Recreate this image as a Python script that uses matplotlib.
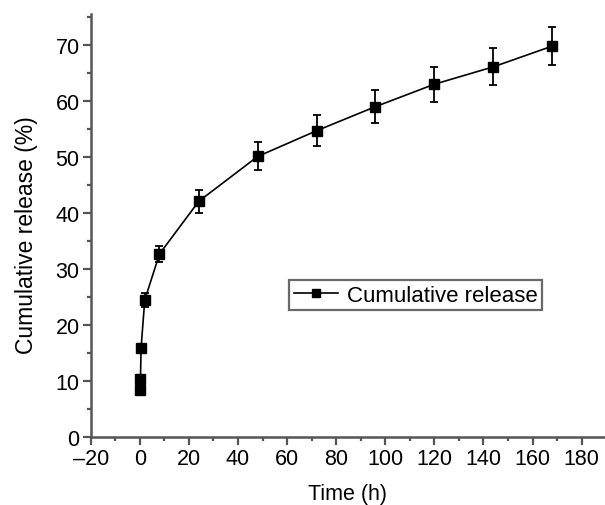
import matplotlib
matplotlib.use("Agg")
import matplotlib.pyplot as plt
from matplotlib.ticker import MultipleLocator

plt.rcParams['font.family'] = ['Liberation Sans', 'DejaVu Sans']

time_h = [0, 0.25, 0.5, 2, 8, 24, 48, 72, 96, 120, 144, 168]
release = [8.4, 10.3, 15.9, 24.5, 32.7, 42.1, 50.1, 54.7, 59.0, 63.0, 66.1, 69.8]
release_err = [0.3, 0.3, 0.5, 1.2, 1.4, 2.1, 2.5, 2.8, 3.0, 3.1, 3.3, 3.4]
x_ticks = [-20, 0, 20, 40, 60, 80, 100, 120, 140, 160, 180]
y_ticks = [0, 10, 20, 30, 40, 50, 60, 70]

fig = plt.figure(figsize=(6.05, 5.06), dpi=100)
ax = fig.add_axes([0.150, 0.134, 0.85, 0.836])

eb = ax.errorbar(time_h, release, yerr=release_err, color='black', marker='s',
                 markersize=7, linewidth=1.2, elinewidth=1.3, capsize=3.2,
                 capthick=1.3, label='Cumulative release')

ax.set_xlim(-20, 189.5)
ax.set_ylim(0, 75.5)
ax.set_xticks(x_ticks)
ax.set_xticklabels(['\u201320' if v < 0 else str(v) for v in x_ticks])
ax.set_yticks(y_ticks)
ax.xaxis.set_minor_locator(MultipleLocator(10))
ax.yaxis.set_minor_locator(MultipleLocator(5))

for s in ['top', 'right']:
    ax.spines[s].set_visible(False)
for s in ['left', 'bottom']:
    ax.spines[s].set_linewidth(1.8)
    ax.spines[s].set_color('#555555')

ax.tick_params(which='major', direction='out', length=6, width=1.6,
               color='#555555', labelsize=15.5, pad=2)
ax.tick_params(which='minor', direction='out', length=3, width=1.6,
               color='#555555')

ax.set_xlabel('Time (h)', fontsize=15.5, labelpad=10)
ax.set_ylabel('Cumulative release (%)', fontsize=16.5)
ax.yaxis.set_label_coords(-0.102, 0.48)

leg = ax.legend(handles=[eb[0]], labels=['Cumulative release'], loc='center',
                bbox_to_anchor=(0.632, 0.336), fontsize=16, markerscale=0.8,
                frameon=True, fancybox=False, handlelength=2.0,
                borderpad=0.2, handletextpad=0.4, borderaxespad=0)
leg.get_frame().set_edgecolor('#444444')
leg.get_frame().set_linewidth(1.6)

fig.savefig('out.png', dpi=100)
